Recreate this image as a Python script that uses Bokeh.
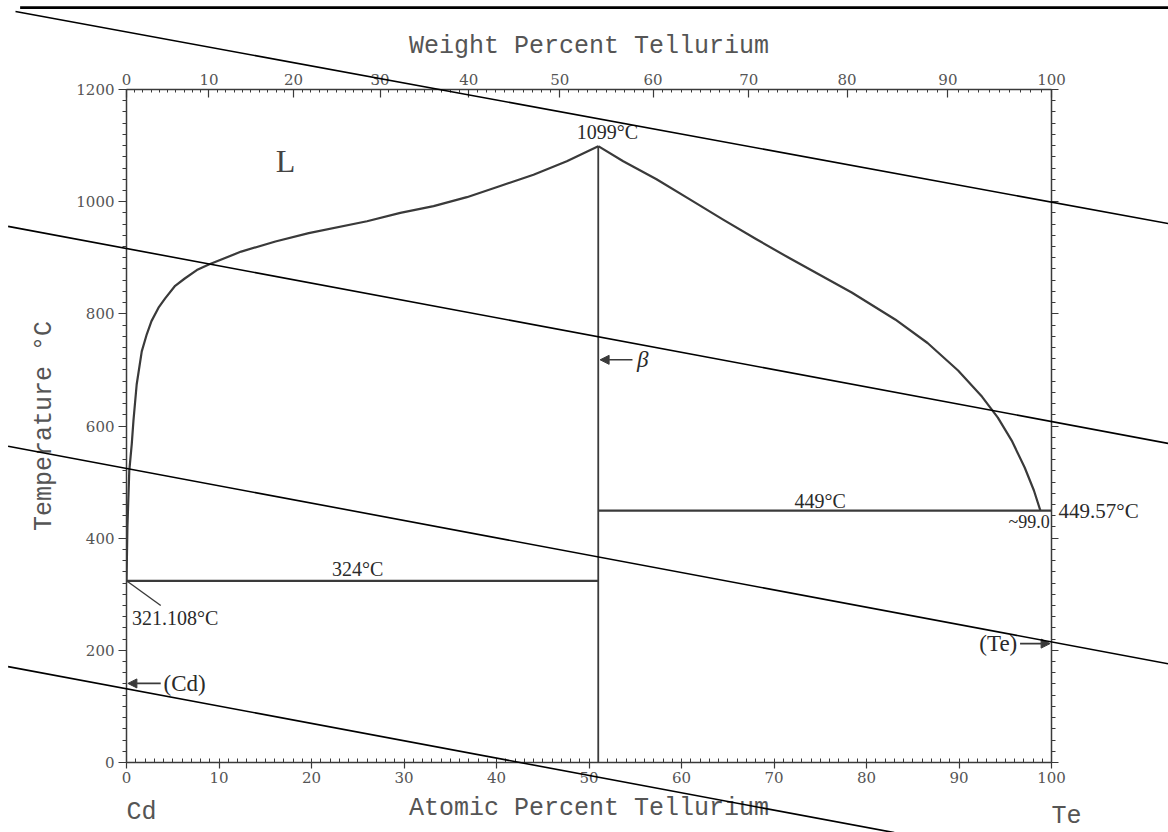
from bokeh.plotting import figure
from bokeh.models import (LinearAxis, FixedTicker, Range1d, Label, Arrow, NormalHead,
                          GridBox, Column)
from bokeh.core.properties import value
from bokeh.embed import file_html
from bokeh.resources import INLINE

# ---------------- data ----------------
# liquidus, Cd side of CdTe (atomic % Te, temperature degC)
liq_left_at = [0.0, 0.1, 0.3, 0.57, 0.75, 1.1, 1.65, 2.2, 2.7, 3.46, 4.2, 5.26, 6.3,
               7.6, 8.9, 12.4, 16.1, 19.7, 26.0, 29.6, 33.2, 36.8, 40.4, 44.0, 47.6, 51.0]
liq_left_T = [321.1, 420, 520, 568, 609, 674, 733, 764, 787, 811, 828, 850, 863,
              878, 888, 911, 929, 944, 965, 980, 992, 1008, 1028, 1048, 1072, 1099]
# liquidus, Te side of CdTe
liq_right_at = [51.0, 53.7, 57.3, 60.9, 64.5, 68.1, 71.7, 78.4, 83.1, 86.6,
                89.9, 92.5, 94.2, 95.7, 97.1, 98.1, 98.8]
liq_right_T = [1099, 1072, 1040, 1004, 968, 933, 899, 838, 790, 748,
               699, 652, 615, 574, 526, 485, 449]
# CdTe compound line and invariant lines
cdte_at = [51.0, 51.0]
cdte_T = [0, 1099]
eut_cd_at = [0.0, 51.0]
eut_cd_T = [324, 324]
eut_te_at = [51.0, 100.0]
eut_te_T = [449, 449]
leader_at = [0.0, 3.7]
leader_T = [324, 280]

# axes
at_major = list(range(0, 101, 10))
at_minor = list(range(0, 101, 1))
T_major = list(range(0, 1201, 200))
T_minor = list(range(0, 1201, 20))
wt_major = list(range(0, 101, 10))
wt_minor = list(range(0, 101, 1))
M_CD, M_TE = 112.41, 127.60

# scan artefacts (straight lines across the scanned sheet)
scan_x0 = [-12.0, -12.8, -12.8, -12.8]
scan_T0 = [1339, 956, 564, 171]
scan_x1 = [112.6, 112.6, 112.6, 83.0]
scan_T1 = [961, 569, 176, -125]
top_rule_x = [-11.5, 112.7]
top_rule_T = [1346, 1346]


def wt_to_at(w):
    if w >= 100:
        return 100.0
    a = w / M_TE
    b = (100 - w) / M_CD
    return round(100 * a / (a + b), 4)


W, H = 1168, 832
BL, BR, BT, BB = 126, 117, 89, 70          # borders around the frame
KX = (W - BL - BR) / 100.0                 # px per at.%
KY = (H - BT - BB) / 1200.0                # px per degC

INK = "#3a3a3a"
GREY = "#555555"
TITLE_FONT = "Liberation Mono"
TICK_FONT = "DejaVu Serif"
ANN_FONT = "Liberation Serif"

p = figure(width=W, height=H, x_range=Range1d(0, 100), y_range=Range1d(0, 1200),
           output_backend="svg", toolbar_location=None,
           min_border_left=BL, min_border_right=BR, min_border_top=BT, min_border_bottom=BB,
           background_fill_color="white", border_fill_color="white")
p.xgrid.visible = False
p.ygrid.visible = False
p.outline_line_color = None


def style_axis(ax):
    ax.axis_line_color = INK
    ax.axis_line_width = 1.5
    ax.major_tick_line_color = INK
    ax.minor_tick_line_color = INK
    ax.major_tick_line_width = 1.2
    ax.minor_tick_line_width = 1
    ax.major_label_text_font = TICK_FONT
    ax.major_label_text_font_size = "15px"
    ax.major_label_text_color = GREY
    ax.axis_label_text_font = TITLE_FONT
    ax.axis_label_text_font_size = "25px"
    ax.axis_label_text_font_style = "normal"
    ax.axis_label_text_color = GREY


xa = p.xaxis[0]
style_axis(xa)
xa.ticker = FixedTicker(ticks=at_major, minor_ticks=at_minor)
xa.major_tick_in = 0
xa.major_tick_out = 6
xa.minor_tick_in = 4
xa.minor_tick_out = 0
xa.major_label_standoff = 3
xa.axis_label = "Atomic Percent Tellurium"
xa.axis_label_standoff = 8

ya = p.yaxis[0]
style_axis(ya)
ya.ticker = FixedTicker(ticks=T_major, minor_ticks=T_minor)
ya.major_tick_in = 0
ya.major_tick_out = 8
ya.minor_tick_in = 0
ya.minor_tick_out = 4
ya.major_label_standoff = 4
ya.axis_label = "Temperature °C"
ya.axis_label_standoff = 14

ta = LinearAxis(ticker=FixedTicker(ticks=[wt_to_at(w) for w in wt_major],
                                   minor_ticks=[wt_to_at(w) for w in wt_minor]),
                major_label_overrides={wt_to_at(w): str(w) for w in wt_major})
style_axis(ta)
ta.major_tick_in = 8
ta.major_tick_out = 0
ta.minor_tick_in = 3
ta.minor_tick_out = 0
ta.major_label_standoff = 5
ta.axis_label = "Weight Percent Tellurium"
ta.axis_label_standoff = 10
p.add_layout(ta, "above")

ra = LinearAxis(ticker=FixedTicker(ticks=T_major, minor_ticks=T_minor),
                major_label_overrides={t: "" for t in T_major})
style_axis(ra)
ra.major_tick_in = 0
ra.major_tick_out = 7
ra.minor_tick_in = 0
ra.minor_tick_out = 4
p.add_layout(ra, "right")

# ---------------- diagram lines ----------------
LW = 2.2
p.line(liq_left_at, liq_left_T, line_color=INK, line_width=LW, line_join="round")
p.line(liq_right_at, liq_right_T, line_color=INK, line_width=LW, line_join="round")
p.line(cdte_at, cdte_T, line_color=INK, line_width=1.8)
p.line(eut_cd_at, eut_cd_T, line_color=INK, line_width=LW)
p.line(eut_te_at, eut_te_T, line_color=INK, line_width=LW)
p.line(leader_at, leader_T, line_color=INK, line_width=1.4)


# ---------------- labels inside the frame ----------------
def lab(x, y, text, size="19px", align="left", base="middle", font=ANN_FONT,
        style="normal", color="#2a2a2a", xo=0, yo=0):
    p.add_layout(Label(x=x, y=y, text=text, text_font=font, text_font_size=size,
                       text_align=align, text_baseline=base, text_font_style=style,
                       text_color=color, x_offset=xo, y_offset=yo))


lab(17.2, 1073, "L", size="32px", align="center", color="#444444")
lab(52.0, 1104, "1099°C", align="center", base="bottom", size="20px")
lab(25.0, 325, "324°C", align="center", base="bottom", size="20px")
lab(75.0, 447, "449°C", align="center", base="bottom", size="20px")
lab(99.8, 446, "~99.0", align="right", base="top", size="18px")
lab(0.6, 258, "321.108°C", size="20px")
lab(4.0, 141, "(Cd)", size="23px")
lab(96.3, 212, "(Te)", align="right", size="23px")
lab(55.2, 718, "β", size="23px", style="italic")

arrow_specs = [(3.7, 141, 0.15, 141), (54.7, 718, 51.2, 718), (96.6, 212, 99.85, 212)]
for xs, ys, xe, ye in arrow_specs:
    p.add_layout(Arrow(x_start=xs, y_start=ys, x_end=xe, y_end=ye,
                       line_color=INK, line_width=1.6,
                       end=NormalHead(size=9, fill_color=INK, line_color=INK)))

# ---------------- transparent overlay over the whole sheet ----------------
# same data units as the main plot, but its frame spans the full canvas
ov = figure(width=W, height=H,
            x_range=Range1d(-BL / KX, 100 + BR / KX),
            y_range=Range1d(-BB / KY, 1200 + BT / KY),
            output_backend="svg", toolbar_location=None,
            min_border=0, min_border_left=0, min_border_right=0,
            min_border_top=0, min_border_bottom=0,
            x_axis_location=None, y_axis_location=None,
            background_fill_color=None, border_fill_color=None)
ov.outline_line_color = None
ov.xgrid.visible = False
ov.ygrid.visible = False

ov.text(x=[100.0], y=[449], text=["449.57°C"], x_offset=7,
        text_font=value(ANN_FONT), text_font_size="21px", text_color="#2a2a2a",
        text_baseline="middle", text_align="left")
ov.text(x=[0.0, 100.0], y=[-89, -96], text=["Cd", "Te"],
        text_font=value(TITLE_FONT), text_font_size="25px", text_color=GREY,
        text_baseline="middle", text_align="left")

ov.segment(x0=scan_x0, y0=scan_T0, x1=scan_x1, y1=scan_T1,
           line_color="black", line_width=1.6)
ov.line(top_rule_x, top_rule_T, line_color="black", line_width=2.6)

layout = GridBox(children=[(p, 0, 0), (Column(children=[ov]), 0, 0)])

open("out.html", "w").write(file_html(layout, INLINE))
